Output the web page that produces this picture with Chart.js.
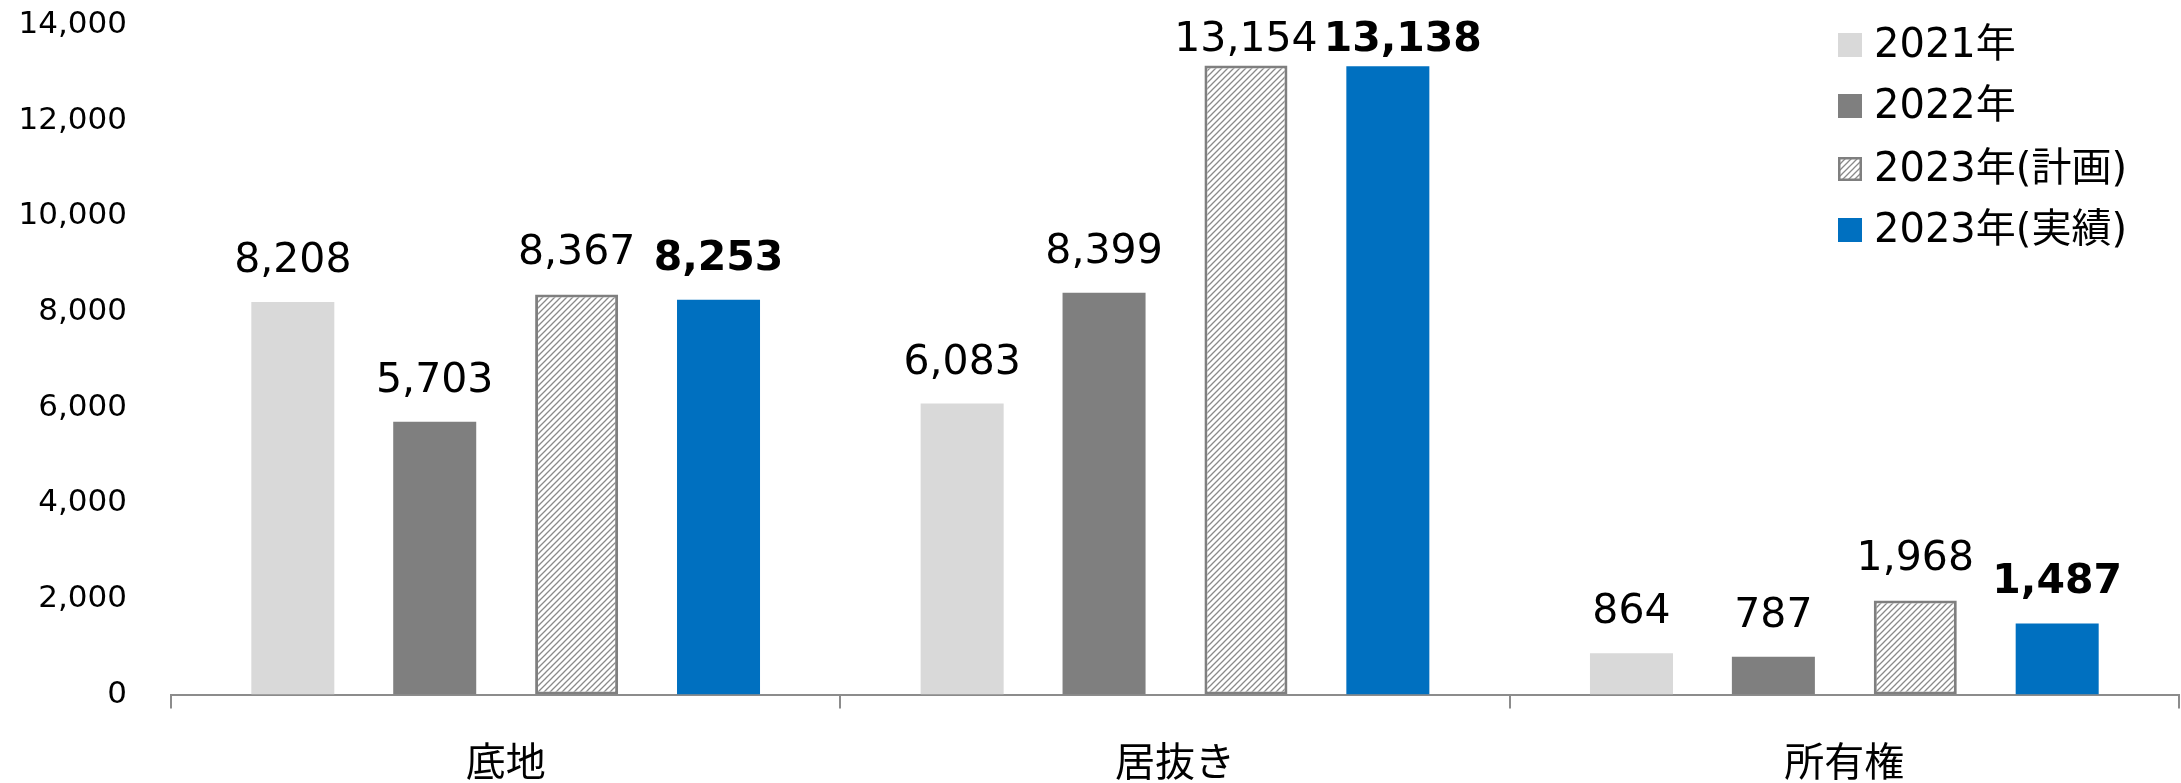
<!DOCTYPE html>
<html><head><meta charset="utf-8">
<script src="https://cdn.jsdelivr.net/npm/chart.js@4.4.1/dist/chart.umd.min.js"></script>
<style>html,body{margin:0;padding:0;background:#fff;}#wrap{width:2181px;height:783px;position:relative;}</style>
</head><body><div id="wrap"><canvas id="c"></canvas></div>
<script>
const categories = ['底地', '居抜き', '所有権'];
const seriesLabels = ['2021年', '2022年', '2023年(計画)', '2023年(実績)'];
const v2021 = [8208, 6083, 864];
const v2022 = [5703, 8399, 787];
const v2023plan = [8367, 13154, 1968];
const v2023actual = [8253, 13138, 1487];
const yTicks = [0, 2000, 4000, 6000, 8000, 10000, 12000, 14000];

const FONT = "'DejaVu Sans', 'Noto Sans CJK JP', sans-serif";

function hatch() {
  const p = 6, c = document.createElement('canvas');
  c.width = p; c.height = p;
  const g = c.getContext('2d');
  g.fillStyle = '#fff'; g.fillRect(0, 0, p, p);
  g.strokeStyle = '#8a8a8a'; g.lineWidth = 1.3;
  g.beginPath();
  g.moveTo(0, p); g.lineTo(p, 0);
  g.moveTo(-1, 1); g.lineTo(1, -1);
  g.moveTo(p - 1, p + 1); g.lineTo(p + 1, p - 1);
  g.stroke();
  return document.getElementById('c').getContext('2d').createPattern(c, 'repeat');
}

const fmt = v => v.toLocaleString('en-US');

const labelPlugin = {
  id: 'vals',
  afterDatasetsDraw(chart) {
    const ctx = chart.ctx;
    ctx.save();
    ctx.textAlign = 'center';
    ctx.textBaseline = 'alphabetic';
    ctx.fillStyle = '#000';
    const n = chart.data.labels.length;
    for (let i = 0; i < n; i++) {
      let prevRight = -Infinity;
      chart.data.datasets.forEach((ds, di) => {
        const el = chart.getDatasetMeta(di).data[i];
        const bold = di === 3;
        ctx.font = (bold ? 'bold ' : '') + '41px ' + FONT;
        const t = fmt(ds.data[i]);
        const w = ctx.measureText(t).width;
        let x = el.x;
        if (x - w / 2 < prevRight + 6) x = prevRight + 6 + w / 2;
        const y = Math.max(el.y - 30, 51);
        ctx.fillText(t, x, y);
        prevRight = x + w / 2;
      });
    }
    ctx.restore();
  }
};

const legendPlugin = {
  id: 'lg',
  afterDraw(chart) {
    const ctx = chart.ctx;
    ctx.save();
    ctx.font = '40px ' + FONT;
    ctx.textBaseline = 'middle';
    ctx.textAlign = 'left';
    const rows = [45, 106, 169, 230];
    chart.data.datasets.forEach((ds, di) => {
      const y = rows[di];
      const s = 24, x = 1838;
      ctx.fillStyle = ds.backgroundColor;
      ctx.fillRect(x, y - s / 2, s, s);
      if (ds.borderWidth) {
        ctx.strokeStyle = ds.borderColor; ctx.lineWidth = 2.5;
        ctx.strokeRect(x + 1.25, y - s / 2 + 1.25, s - 2.5, s - 2.5);
      }
      ctx.fillStyle = '#000';
      ctx.fillText(ds.label, 1874, y + 2);
    });
    ctx.restore();
  }
};

const pat = hatch();
const colors = ['#d9d9d9', '#7f7f7f', pat, '#0070c0'];
const dataSets = [v2021, v2022, v2023plan, v2023actual];

new Chart(document.getElementById('c'), {
  type: 'bar',
  data: {
    labels: categories,
    datasets: dataSets.map((d, i) => ({
      label: seriesLabels[i],
      data: d,
      backgroundColor: colors[i],
      borderColor: i === 2 ? '#7f7f7f' : 'rgba(0,0,0,0)',
      borderWidth: i === 2 ? 3 : 0,
      borderSkipped: false,
      categoryPercentage: 0.848,
      barPercentage: 0.585
    }))
  },
  options: {
    responsive: true,
    maintainAspectRatio: false,
    animation: false,
    layout: { padding: { top: 25, right: 2, left: 0, bottom: 0 } },
    plugins: { legend: { display: false }, tooltip: { enabled: false } },
    scales: {
      x: {
        grid: { display: true, drawOnChartArea: false, drawTicks: true, tickLength: 14, color: '#8c8c8c', lineWidth: 2, offset: true },
        border: { display: true, color: '#8c8c8c', width: 2 },
        ticks: { font: { family: FONT, size: 40 }, color: '#000', padding: 33, maxRotation: 0 },
        afterFit(s) { s.height = 88.5; s.paddingLeft = 0; s.paddingRight = 0; }
      },
      y: {
        min: 0, max: 14000,
        afterBuildTicks(s) { s.ticks = yTicks.map(v => ({ value: v })); },
        grid: { display: false, drawTicks: false },
        border: { display: false },
        ticks: { font: { family: FONT, size: 31 }, color: '#000', padding: 44, callback: v => fmt(v) },
        afterFit(s) { s.width = 171; s.paddingTop = 0; s.paddingBottom = 0; }
      }
    }
  },
  plugins: [labelPlugin, legendPlugin]
});
</script></body></html>
